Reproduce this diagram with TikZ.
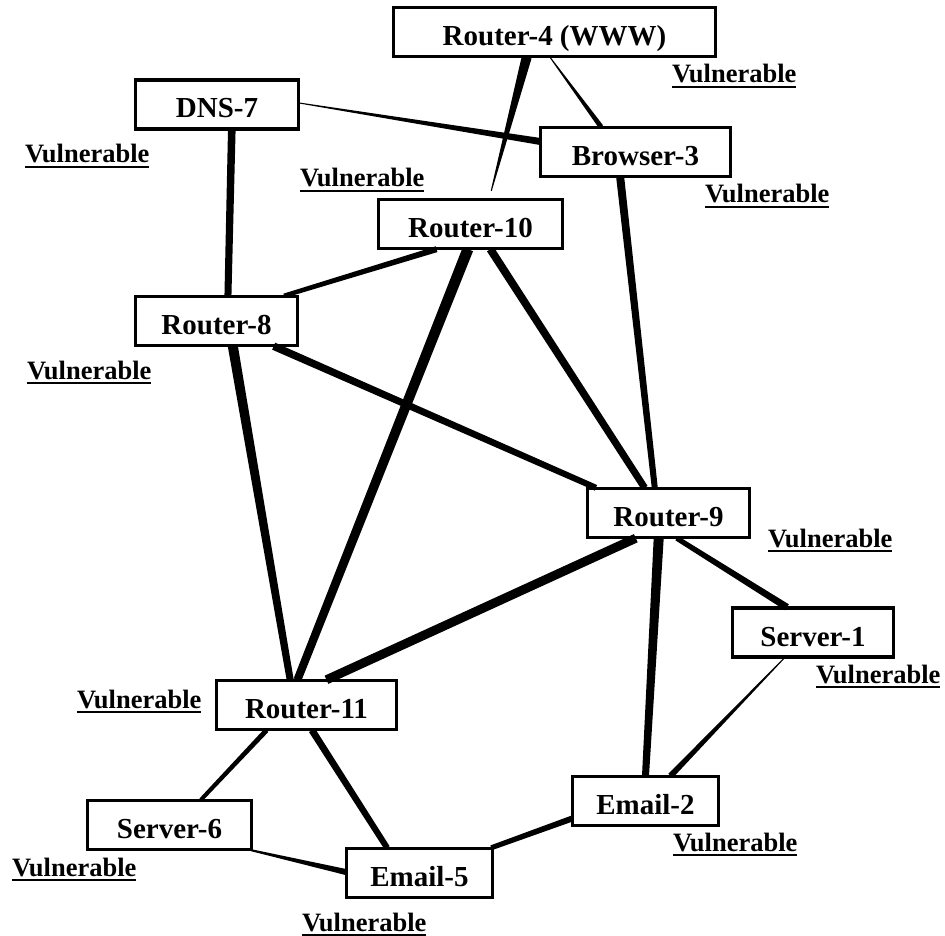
\documentclass[tikz,border=0pt]{standalone}
\usepackage{fontspec}
\setmainfont{Liberation Serif}
\usetikzlibrary{calc}

% underlined status tag
\newsavebox\vulbox
\newcommand\vulntag{\sbox\vulbox{Vulnerable}\rlap{\rule[-5pt]{\wd\vulbox}{2.4pt}}\usebox\vulbox}
% host name, set a little below the middle of its box
\newcommand\hostname[1]{\raisebox{-13.5pt}[0pt][0pt]{#1}}

% tapered link: #1 start, #2 end, #3 half width at start, #4 half width at end
\newcommand\taper[4]{%
  \fill[linkfill] ($(#1)!#3!90:(#2)$) -- ($(#2)!#4!-90:(#1)$)
        -- ($(#2)!#4!90:(#1)$) -- ($(#1)!#3!-90:(#2)$) -- cycle;}

\begin{document}
\begin{tikzpicture}[x=1pt,y=-1pt,
  hostbox/.style={draw, line width=2.4pt, fill=white, inner sep=0pt,
    minimum height=48pt, font=\fontsize{29}{34}\selectfont\bfseries},
  vultag/.style={anchor=base west, inner sep=0pt,
    font=\fontsize{26.5}{30}\selectfont\bfseries},
  linkfill/.style={black}]
\useasboundingbox (0,0) rectangle (945,936);

% hosts
\node[hostbox, minimum width=321pt] (r4)  at (554.5,32)  {\hostname{Router-4 (WWW)}};
\node[hostbox, minimum width=162pt] (dns7) at (217,104.5) {\hostname{DNS-7}};
\node[hostbox, minimum width=189pt] (b3)  at (635.5,152) {\hostname{Browser-3}};
\node[hostbox, minimum width=183pt] (r10) at (470.5,224) {\hostname{Router-10}};
\node[hostbox, minimum width=161pt] (r8)  at (216.5,321) {\hostname{Router-8}};
\node[hostbox, minimum width=161pt] (r9)  at (668.5,513) {\hostname{Router-9}};
\node[hostbox, minimum width=160pt] (s1)  at (813,632.5) {\hostname{Server-1}};
\node[hostbox, minimum width=179pt] (r11) at (306.5,705) {\hostname{Router-11}};
\node[hostbox, minimum width=163pt] (s6)  at (169.5,825) {\hostname{Server-6}};
\node[hostbox, minimum width=145pt] (e2)  at (645.5,801) {\hostname{Email-2}};
\node[hostbox, minimum width=145pt] (e5)  at (419.5,873) {\hostname{Email-5}};

% link end points on the box borders
\coordinate (a1) at ($(r4.south west)!0.414!(r4.south east)$);
\coordinate (b1) at ($(r10.north west)!0.612!(r10.north east)+(0,-8)$);
\coordinate (a2) at ($(r4.south west)!0.486!(r4.south east)$);
\coordinate (b2) at ($(b3.north west)!0.32!(b3.north east)$);
\coordinate (a3) at ($(dns7.north east)!0.47!(dns7.south east)$);
\coordinate (b3p) at ($(b3.north west)!0.29!(b3.south west)$);
\coordinate (a4) at ($(dns7.south west)!0.59!(dns7.south east)$);
\coordinate (b4) at ($(r8.north west)!0.57!(r8.north east)$);
\coordinate (a5) at ($(b3.south west)!0.42!(b3.south east)$);
\coordinate (b5) at ($(r9.north west)!0.416!(r9.north east)$);
\coordinate (a6) at ($(r10.south west)!0.317!(r10.south east)$);
\coordinate (b6) at ($(r8.north west)!0.913!(r8.north east)$);
\coordinate (a7) at ($(r10.south west)!0.486!(r10.south east)$);
\coordinate (b7) at ($(r11.north west)!0.45!(r11.north east)$);
\coordinate (a8) at ($(r10.south west)!0.607!(r10.south east)$);
\coordinate (b8) at ($(r9.north west)!0.354!(r9.north east)$);
\coordinate (a9) at ($(r8.south west)!0.85!(r8.south east)$);
\coordinate (b9) at ($(r9.north west)!0.056!(r9.north east)$);
\coordinate (a10) at ($(r8.south west)!0.6!(r8.south east)$);
\coordinate (b10) at ($(r11.north west)!0.41!(r11.north east)$);
\coordinate (a11) at ($(r9.south west)!0.30!(r9.south east)$);
\coordinate (b11) at ($(r11.north west)!0.61!(r11.north east)$);
\coordinate (a12) at ($(r9.south west)!0.44!(r9.south east)$);
\coordinate (b12) at ($(e2.north west)!0.50!(e2.north east)$);
\coordinate (a13) at ($(r9.south west)!0.55!(r9.south east)$);
\coordinate (b13) at ($(s1.north west)!0.34!(s1.north east)$);
\coordinate (a14) at ($(s1.south west)!0.325!(s1.south east)$);
\coordinate (b14) at ($(e2.north west)!0.67!(e2.north east)$);
\coordinate (a15) at ($(e2.north west)!0.85!(e2.south west)$);
\coordinate (b15) at ($(e5.north east)+(-2,0)$);
\coordinate (a16) at ($(r11.south west)!0.28!(r11.south east)$);
\coordinate (b16) at ($(s6.north west)!0.69!(s6.north east)$);
\coordinate (a17) at ($(r11.south west)!0.53!(r11.south east)$);
\coordinate (b17) at ($(e5.north west)!0.28!(e5.north east)$);
\coordinate (a18) at ($(s6.south east)+(-1,0)$);
\coordinate (b18) at ($(e5.north west)!0.48!(e5.south west)$);

% links
\taper{a1}{b1}{5pt}{0.5pt}
\taper{a2}{b2}{0.5pt}{2.5pt}
\taper{a3}{b3p}{0.5pt}{3.5pt}
\taper{a4}{b4}{3.8pt}{3.5pt}
\taper{a5}{b5}{4pt}{3pt}
\taper{a6}{b6}{3pt}{2.2pt}
\taper{a7}{b7}{5.5pt}{4pt}
\taper{a8}{b8}{4pt}{3.5pt}
\taper{a9}{b9}{3.8pt}{3pt}
\taper{a10}{b10}{5pt}{3.5pt}
\taper{a11}{b11}{4.5pt}{4.5pt}
\taper{a12}{b12}{5pt}{3.5pt}
\taper{a13}{b13}{2.5pt}{3.5pt}
\taper{a14}{b14}{0.5pt}{3pt}
\taper{a15}{b15}{3pt}{2.5pt}
\taper{a16}{b16}{2.5pt}{2pt}
\taper{a17}{b17}{3.5pt}{3pt}
\taper{a18}{b18}{1pt}{3pt}

% redraw the box frames over the link ends
\foreach \n in {r4,dns7,b3,r10,r8,r9,s1,r11,s6,e2,e5}
  \draw[line width=2.4pt] (\n.north west) rectangle (\n.south east);

% status tags
\node[vultag] (v4)  at (672,83)  {\vulntag};
\node[vultag] (v7)  at (25,163)  {\vulntag};
\node[vultag] (v10) at (300,187) {\vulntag};
\node[vultag] (v3)  at (705,203) {\vulntag};
\node[vultag] (v8)  at (27,379)  {\vulntag};
\node[vultag] (v9)  at (768,547) {\vulntag};
\node[vultag] (v1)  at (816,683) {\vulntag};
\node[vultag] (v11) at (77,708)  {\vulntag};
\node[vultag] (v6)  at (12,876)  {\vulntag};
\node[vultag] (v2)  at (673,851) {\vulntag};
\node[vultag] (v5)  at (302,931) {\vulntag};
\end{tikzpicture}
\end{document}
